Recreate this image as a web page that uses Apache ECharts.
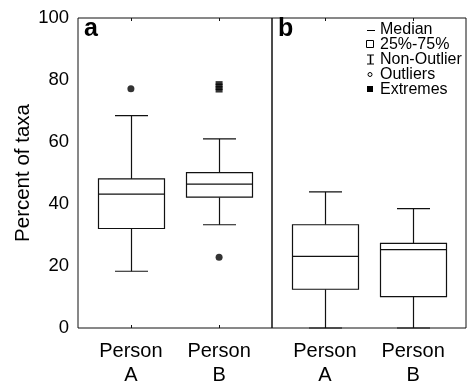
<!DOCTYPE html>
<html lang="en">
<head>
	<meta charset="UTF-8">
	<title>Percent of taxa</title>
	<script src="https://cdn.jsdelivr.net/npm/echarts@6/dist/echarts.min.js"></script>
	<style>
		html, body { margin: 0; padding: 0; background: #fff; }
	</style>
</head>
<body>
	<div id="chart" style="width: 471px;height: 387px;"></div>
	<script>
		// categories and box statistics: [min, Q1, median, Q3, max]
		var categories = ['Person\nA', 'Person\nB'];
		var boxesA = [[18.3, 32.1, 43.2, 48.1, 68.5], [33.3, 42.2, 46.4, 50.1, 61.0]];
		var boxesB = [[0, 12.5, 23.1, 33.3, 43.9], [0, 10.1, 25.3, 27.3, 38.5]];
		var outliersA = [[1, 77.2], [2, 22.8]];
		var extremesA = [[2, 76.6], [2, 77.4], [2, 78.2], [2, 79.0]];
		var legendItems = ['Median', '25%-75%', 'Non-Outlier', 'Outliers', 'Extremes'];

		var font = 'Liberation Sans, Arial, sans-serif';
		var ink = '#111';

		function toData(boxes) {
			return boxes.map(function (b, i) {
				return [i + 1].concat(b);
			});
		}

		function renderBox(params, api) {
			var x = api.value(0);
			var p = [1, 2, 3, 4, 5].map(function (i) {
				return api.coord([x, api.value(i)]);
			});
			var cx = Math.round(p[0][0]) + 0.5;
			var bw = 33, cw = 16.5;
			var st = { stroke: ink, lineWidth: 1.2, fill: null };
			function line(x1, y1, x2, y2) {
				return { type: 'line', shape: { x1: x1, y1: y1, x2: x2, y2: y2 }, style: st };
			}
			return {
				type: 'group',
				children: [
					line(cx, p[0][1], cx, p[1][1]),
					line(cx, p[3][1], cx, p[4][1]),
					line(cx - cw, p[0][1], cx + cw, p[0][1]),
					line(cx - cw, p[4][1], cx + cw, p[4][1]),
					{ type: 'rect', shape: { x: cx - bw, y: p[3][1], width: bw * 2, height: p[1][1] - p[3][1] }, style: { stroke: ink, lineWidth: 1.2, fill: '#fff' } },
					line(cx - bw, p[2][1], cx + bw, p[2][1])
				]
			};
		}

		function xBottom(idx) {
			return {
				type: 'value', gridIndex: idx, min: 0.4, max: 2.6,
				axisLine: { show: false },
				splitLine: { show: false },
				axisTick: { show: true, inside: true, length: 3, customValues: [1, 2], lineStyle: { color: ink } },
				axisLabel: {
					customValues: [1, 2], margin: 11, color: '#000', fontSize: 20, fontFamily: font, lineHeight: 24,
					formatter: function (v) { return categories[Math.round(v) - 1]; }
				}
			};
		}
		function xTop(idx) {
			return {
				type: 'value', gridIndex: idx, position: 'top', min: 0.4, max: 2.6,
				axisLine: { show: false },
				splitLine: { show: false },
				axisTick: { show: true, inside: true, length: 3, customValues: [1, 2], lineStyle: { color: ink } },
				axisLabel: { show: false }
			};
		}

		var graphics = [
			{ type: 'text', left: 84, top: 17, style: { text: 'a', font: 'bold 25px ' + font, fill: '#000' } },
			{ type: 'text', left: 278, top: 17, style: { text: 'b', font: 'bold 25px ' + font, fill: '#000' } },
			{ type: 'line', shape: { x1: 367, y1: 30.5, x2: 375, y2: 30.5 }, style: { stroke: '#000', lineWidth: 1 } },
			{ type: 'rect', shape: { x: 366.5, y: 40.5, width: 7, height: 7 }, style: { stroke: '#000', fill: '#fff', lineWidth: 1 } },
			{ type: 'line', shape: { x1: 370.5, y1: 55, x2: 370.5, y2: 64 }, style: { stroke: '#000', lineWidth: 1.5 } },
			{ type: 'line', shape: { x1: 367, y1: 55, x2: 374, y2: 55 }, style: { stroke: '#000', lineWidth: 1 } },
			{ type: 'line', shape: { x1: 367, y1: 64, x2: 374, y2: 64 }, style: { stroke: '#000', lineWidth: 1 } },
			{ type: 'circle', shape: { cx: 370, cy: 74.5, r: 2 }, style: { stroke: '#000', fill: '#fff', lineWidth: 1 } },
			{ type: 'rect', shape: { x: 367, y: 86, width: 6, height: 6 }, style: { fill: '#000' } }
		];
		legendItems.forEach(function (t, i) {
			graphics.push({ type: 'text', left: 380, top: 22 + i * 14.8, style: { text: t, font: '16px ' + font, fill: '#000' } });
		});

		var option = {
			animation: false,
			backgroundColor: '#fff',
			grid: [
				{ left: 78, top: 18, width: 194, height: 314, show: true, borderColor: ink, borderWidth: 1, backgroundColor: 'transparent' },
				{ left: 272, top: 18, width: 194, height: 314, show: true, borderColor: ink, borderWidth: 1, backgroundColor: 'transparent' }
			],
			xAxis: [xBottom(0), xTop(0), xBottom(1), xTop(1)],
			yAxis: [
				{
					type: 'value', gridIndex: 0, min: 0, max: 100, interval: 20,
					name: 'Percent of taxa', nameLocation: 'middle', nameGap: 42,
					nameTextStyle: { fontSize: 20.5, fontFamily: font, color: '#000' },
					axisLine: { show: false }, axisTick: { show: false }, splitLine: { show: false },
					axisLabel: { color: '#000', fontSize: 18.5, fontFamily: font, margin: 9 }
				},
				{
					type: 'value', gridIndex: 1, min: 0, max: 100, interval: 20,
					axisLine: { show: false }, axisTick: { show: false }, splitLine: { show: false },
					axisLabel: { show: false }
				}
			],
			series: [
				{ type: 'custom', xAxisIndex: 0, yAxisIndex: 0, renderItem: renderBox, data: toData(boxesA), encode: { x: 0, y: [1, 2, 3, 4, 5] } },
				{ type: 'custom', xAxisIndex: 2, yAxisIndex: 1, renderItem: renderBox, data: toData(boxesB), encode: { x: 0, y: [1, 2, 3, 4, 5] } },
				{ type: 'scatter', xAxisIndex: 0, yAxisIndex: 0, symbol: 'circle', symbolSize: 7, itemStyle: { color: '#000' }, data: outliersA },
				{ type: 'scatter', xAxisIndex: 0, yAxisIndex: 0, symbol: 'rect', symbolSize: [7, 4], itemStyle: { color: '#000' }, data: extremesA }
			],
			graphic: graphics
		};

		var myChart = echarts.init(document.getElementById('chart'));
		myChart.setOption(option);
	</script>
</body>
</html>
